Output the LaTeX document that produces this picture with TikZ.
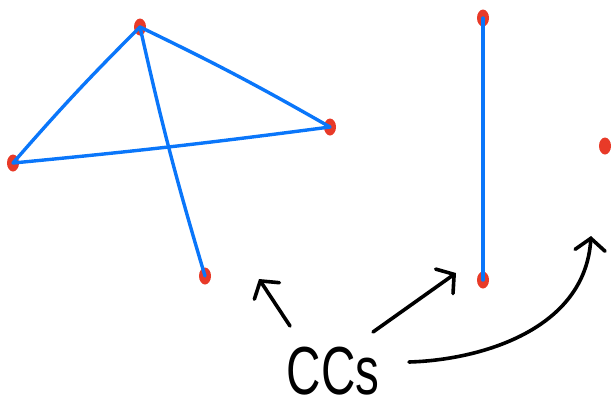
\documentclass[tikz,border=0pt]{standalone}
\usepackage{fontspec}
\setmainfont{Liberation Sans}
\usetikzlibrary{arrows.meta,shapes.geometric}
\definecolor{dotred}{RGB}{232,58,40}
\definecolor{edgeblue}{RGB}{10,118,250}
\tikzset{
  vtx/.style={ellipse,fill=dotred,minimum width=12pt,minimum height=17pt,inner sep=0pt},
  edge/.style={draw=edgeblue,line width=3.4pt,line cap=round},
  pointer/.style={draw=black,line width=3.6pt,line cap=round,line join=round,
    -{Straight Barb[length=12pt,width=30pt,line cap=round]}}
}
\begin{document}
\begin{tikzpicture}[x=1pt,y=-1pt]
\useasboundingbox (0,0) rectangle (613,410);
% vertices
\node[vtx] (A) at (140,27) {};
\node[vtx] (B) at (13,163) {};
\node[vtx] (C) at (330,127) {};
\node[vtx] (D) at (205,276) {};
\node[vtx] (E) at (483,18) {};
\node[vtx] (F) at (483,280) {};
\node[vtx] (G) at (605,146) {};
% edges
\draw[edge] (A.center) to[bend right=2] (B.center);
\draw[edge] (A.center) to[bend left=2] (C.center);
\draw[edge] (B.center) to[bend right=1] (C.center);
\draw[edge] (A.center) to[bend right=2] (D.center);
\draw[edge] (E.center) -- (F.center);
% label
\node[font=\fontsize{68}{68}\selectfont,xscale=0.7,inner sep=0pt,anchor=base] (L) at (333,394) {CCs};
\coordinate (s1) at (290,326);
\coordinate (t1) at (259,279);
\coordinate (s2) at (373,332);
\coordinate (t2) at (456,273);
\coordinate (s3) at (409,362);
\coordinate (t3) at (591,236);
\draw[pointer] (s1) -- (t1);
\draw[pointer] (s2) -- (t2);
\draw[pointer] (s3) .. controls (480,360) and (585,330) .. (t3);
\end{tikzpicture}
\end{document}
